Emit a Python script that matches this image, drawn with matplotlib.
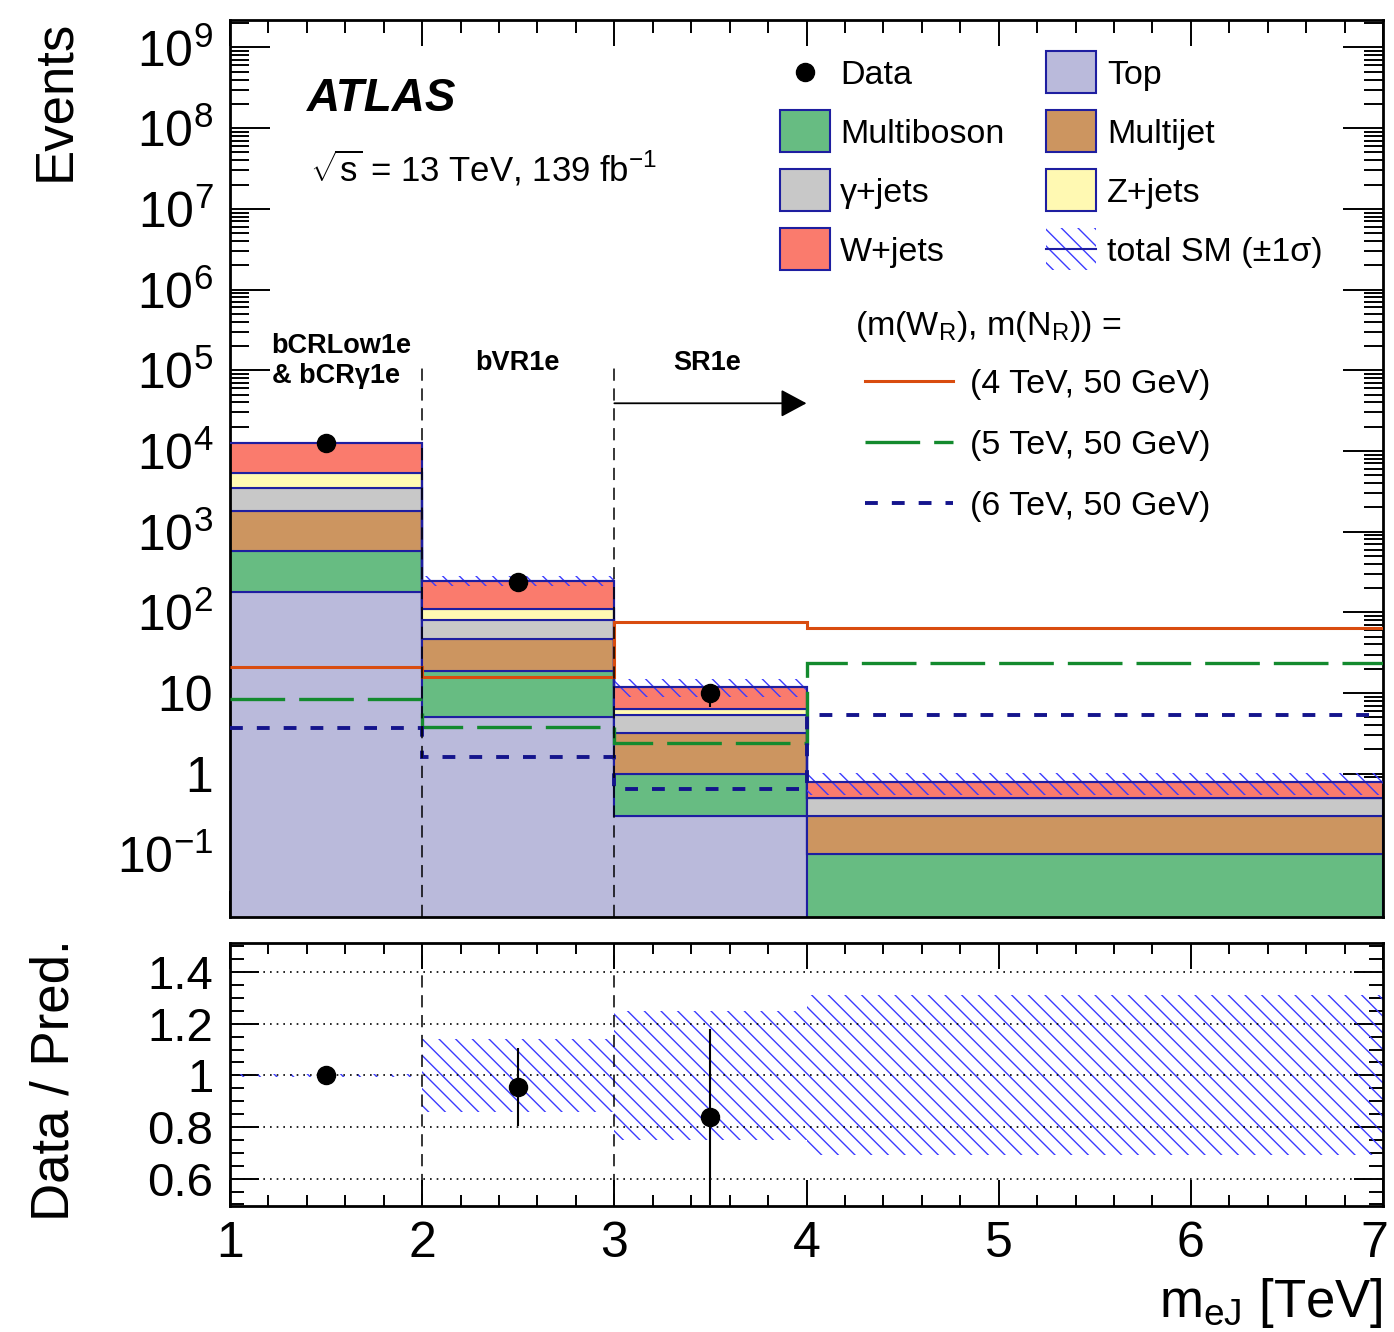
import numpy as np
import matplotlib
matplotlib.use("Agg")
import matplotlib.pyplot as plt
from matplotlib.patches import Rectangle
from matplotlib.lines import Line2D
from matplotlib.transforms import ScaledTranslation
from matplotlib.ticker import FixedLocator, FuncFormatter, NullFormatter, MultipleLocator, LogLocator

plt.rcParams["font.family"] = ["Liberation Sans", "DejaVu Sans"]
plt.rcParams["mathtext.fontset"] = "custom"
plt.rcParams["mathtext.rm"] = "Liberation Sans"
plt.rcParams["mathtext.it"] = "Liberation Sans:italic"
plt.rcParams["mathtext.bf"] = "Liberation Sans:bold"
plt.rcParams["hatch.linewidth"] = 1.0

# ---- data ----
bin_edges = [1, 2, 3, 4, 7]
process_names = ["Top", "Multiboson", "Multijet", "γ+jets", "Z+jets", "W+jets"]
top = [177, 5.1, 0.30, 0.005]
multiboson = [405, 13.7, 0.70, 0.095]
multijet = [1198, 28.5, 2.18, 0.197]
gamma_jets = [1690, 32.3, 2.17, 0.203]
z_jets = [1830, 30.4, 0.95, 0.0]
w_jets = [7400, 138, 5.5, 0.29]
total_rel_unc = [0.005, 0.14, 0.25, 0.31]

data_x = [1.5, 2.5, 3.5]
data = [12700, 237, 9.9]
data_err = [113, 15, 3.2]
ratio_err = [0.01, 0.15, 0.34]

sig_4tev = [21.1, 15.8, 75.9, 64]
sig_5tev = [8.4, 3.8, 2.43, 23.7]
sig_6tev = [3.7, 1.62, 0.65, 5.4]
sig_labels = ["(4 TeV, 50 GeV)", "(5 TeV, 50 GeV)", "(6 TeV, 50 GeV)"]

ratio_ticks = [0.6, 0.8, 1.0, 1.2, 1.4]
ratio_ticklabels = ["0.6", "0.8", "1", "1.2", "1.4"]

# ---- styles ----
colors = {
    "Top": "#BABADB",
    "Multiboson": "#67BC82",
    "Multijet": "#CC9560",
    "γ+jets": "#C8C8C8",
    "Z+jets": "#FFF9B2",
    "W+jets": "#FA7B6D",
}
edge_blue = "#1E1EA0"
hatch_blue = "#3C3CFF"
sig_styles = [
    dict(color="#D94C0F", lw=2.2, linestyle="-"),
    dict(color="#138A2E", lw=2.4, linestyle=(0, (16.4, 4.2))),
    dict(color="#14148C", lw=2.8, linestyle=(0, (3.3, 3.6))),
]

W, H = 1394, 1332
def fx(px):
    return px / W
def fy(py):
    return 1 - py / H

fig = plt.figure(figsize=(W / 100, H / 100), dpi=100)
ax = fig.add_axes([fx(230), fy(917), (1383 - 230) / W, (917 - 20) / H])
axr = fig.add_axes([fx(230), fy(1205.7), (1383 - 230) / W, (1205.7 - 943) / H])

edges = np.array(bin_edges, dtype=float)
yields = [np.array(v, dtype=float) for v in (top, multiboson, multijet, gamma_jets, z_jets, w_jets)]
total = np.sum(yields, axis=0)

# stacked backgrounds
cum = np.zeros(len(total))
for name, y in zip(process_names, yields):
    new = cum + y
    lower = np.where(cum > 0, cum, 1e-6)
    ax.stairs(np.maximum(new, 1e-6), edges, baseline=lower, fill=True,
              facecolor=colors[name], edgecolor=edge_blue, lw=1.5, zorder=2)
    cum = new

# total SM uncertainty band
rel = np.array(total_rel_unc)
ax.stairs(total * (1 + rel), edges, baseline=total * (1 - rel), fill=True,
          facecolor="none", edgecolor=hatch_blue, hatch="\\\\", lw=0, zorder=3)
ax.stairs(total, edges, baseline=None, color=edge_blue, lw=1.5, zorder=3)

# signal benchmarks
for vals, st in zip((sig_4tev, sig_5tev, sig_6tev), sig_styles):
    ax.stairs(vals, edges, baseline=None, zorder=4, **st)

# region separators
ymin, ymax = 0.0168, 2.19e9
for xe in (2, 3):
    ax.plot([xe, xe], [ymin, 1.26e5], color="k", lw=1.1, linestyle=(0, (8, 5)), zorder=5)
    axr.axvline(xe, color="k", lw=1.1, linestyle=(0, (8, 5)), zorder=5)

ax.annotate("", xy=(4.0, 3.9e4), xytext=(3.0, 3.9e4),
            arrowprops=dict(arrowstyle="-|>,head_length=0.8,head_width=0.43",
                            color="k", lw=1.3, shrinkA=0, shrinkB=0, mutation_scale=20),
            zorder=6)

# data
ax.errorbar(data_x, data, yerr=data_err, fmt="o", ms=13, color="k",
            elinewidth=1.5, capsize=0, zorder=7)

ax.set_yscale("log")
ax.set_xlim(1, 7)
ax.set_ylim(ymin, ymax)

def log_label(v, pos):
    e = int(round(np.log10(v)))
    if e == 0:
        return "1"
    if e == 1:
        return "10"
    return r"$10^{%d}$" % e

ax.yaxis.set_major_locator(LogLocator(base=10, numticks=30))
ax.yaxis.set_minor_locator(LogLocator(base=10, subs=np.arange(2, 10), numticks=300))
ax.yaxis.set_major_formatter(FuncFormatter(log_label))
ax.yaxis.set_minor_formatter(NullFormatter())
ax.xaxis.set_major_locator(MultipleLocator(1))
ax.xaxis.set_minor_locator(MultipleLocator(0.2))
ax.tick_params(axis="x", which="both", labelbottom=False)

for a in (ax, axr):
    a.tick_params(which="both", direction="in", top=True, right=True, width=1.4, colors="k")
    for sp in a.spines.values():
        sp.set_linewidth(2.0)
ax.tick_params(axis="y", which="major", length=29, labelsize=36, pad=12)
ax.tick_params(axis="y", which="minor", length=14)
ax.tick_params(axis="x", which="major", length=19)
ax.tick_params(axis="x", which="minor", length=9.5)

# ratio panel
ratio = np.array(data) / total[: len(data)]
axr.stairs(1 + rel, edges, baseline=1 - rel, fill=True, facecolor="none",
           edgecolor=hatch_blue, hatch="\\\\", lw=0, zorder=2)
for t in ratio_ticks:
    axr.axhline(t, color="k", lw=1.2, linestyle=(0, (1, 3)), zorder=3)
axr.errorbar(data_x, ratio, yerr=ratio_err, fmt="o", ms=13, color="k",
             elinewidth=1.5, capsize=0, zorder=7)
axr.set_xlim(1, 7)
axr.set_ylim(0.495, 1.513)
axr.yaxis.set_major_locator(FixedLocator(ratio_ticks))
axr.yaxis.set_major_formatter(FuncFormatter(lambda v, p: ratio_ticklabels[ratio_ticks.index(round(v, 1))]))
axr.yaxis.set_minor_locator(MultipleLocator(0.05))
axr.xaxis.set_major_locator(MultipleLocator(1))
axr.xaxis.set_minor_locator(MultipleLocator(0.2))
axr.xaxis.set_major_formatter(FuncFormatter(lambda v, p: "%d" % v))
axr.tick_params(axis="y", which="major", length=21, labelsize=34, pad=12)
axr.tick_params(axis="y", which="minor", length=10)
axr.tick_params(axis="x", which="major", length=19, labelsize=36, pad=11)
axr.tick_params(axis="x", which="minor", length=8)

# keep the last x label inside the canvas
fig.canvas.draw()
for lab in axr.get_xticklabels():
    if lab.get_text() == "7":
        lab.set_transform(lab.get_transform() + ScaledTranslation(-0.09, 0, fig.dpi_scale_trans))

# axis titles
fig.text(fx(55), fy(20), "Events", rotation=90, ha="center", va="top", fontsize=38)
fig.text(fx(55), fy(1080), "Data / Pred.", rotation=90, ha="center", va="center", fontsize=38)
fig.text(fx(1383), fy(1303), r"m$_{\mathrm{eJ}}$ [TeV]", ha="right", va="center", fontsize=38)

# labels
fig.text(fx(307), fy(94), "ATLAS", fontsize=33, weight="bold", style="italic", va="center_baseline")
fig.text(fx(310), fy(165), r"$\sqrt{\mathrm{s}}$ = 13 TeV, 139 fb$^{-1}$", fontsize=25, va="center_baseline")
fig.text(fx(341), fy(346), "bCRLow1e", fontsize=19.5, weight="bold", ha="center", va="center")
fig.text(fx(336), fy(376), "& bCRγ1e", fontsize=19.5, weight="bold", ha="center", va="center")
fig.text(fx(517), fy(363), "bVR1e", fontsize=19.5, weight="bold", ha="center", va="center")
fig.text(fx(707), fy(363), "SR1e", fontsize=19.5, weight="bold", ha="center", va="center")

# legend
leg_fs = 24.5
rows = [72, 131, 190, 249]
entries = [
    ("Data", 0, 0), ("Top", 1, 0),
    ("Multiboson", 0, 1), ("Multijet", 1, 1),
    ("γ+jets", 0, 2), ("Z+jets", 1, 2),
    ("W+jets", 0, 3), ("total SM (±1σ)", 1, 3),
]
box_x = [780, 1046]
text_x = [840, 1107]
bw, bh = 50, 42
for label, col, row in entries:
    yc = rows[row]
    if label == "Data":
        fig.add_artist(Line2D([fx(805)], [fy(yc)], marker="o", ms=13, color="k",
                              transform=fig.transFigure))
    elif label.startswith("total"):
        fig.add_artist(Rectangle((fx(box_x[col]), fy(yc + bh / 2)), bw / W, bh / H,
                                 transform=fig.transFigure, facecolor="none",
                                 edgecolor=hatch_blue, hatch="\\\\", lw=0))
        fig.add_artist(Line2D([fx(box_x[col]), fx(box_x[col] + bw)], [fy(yc), fy(yc)],
                              color=edge_blue, lw=1.5, transform=fig.transFigure))
    else:
        fig.add_artist(Rectangle((fx(box_x[col]), fy(yc + bh / 2)), bw / W, bh / H,
                                 transform=fig.transFigure, facecolor=colors[label],
                                 edgecolor=edge_blue, lw=1.5))
    fig.text(fx(text_x[col]), fy(yc), label, fontsize=leg_fs, va="center_baseline", ha="left")

fig.text(fx(855), fy(322), r"(m(W$_{\mathrm{R}}$), m(N$_{\mathrm{R}}$)) =", fontsize=leg_fs,
         va="center_baseline", ha="left")
for lab, st, yc in zip(sig_labels, sig_styles, [381, 442, 503]):
    fig.add_artist(Line2D([fx(865), fx(953)], [fy(yc), fy(yc)], transform=fig.transFigure,
                          color=st["color"], lw=st["lw"], linestyle=st["linestyle"]))
    fig.text(fx(970), fy(yc), lab, fontsize=leg_fs, va="center_baseline", ha="left")

fig.savefig("out.png", dpi=100)
